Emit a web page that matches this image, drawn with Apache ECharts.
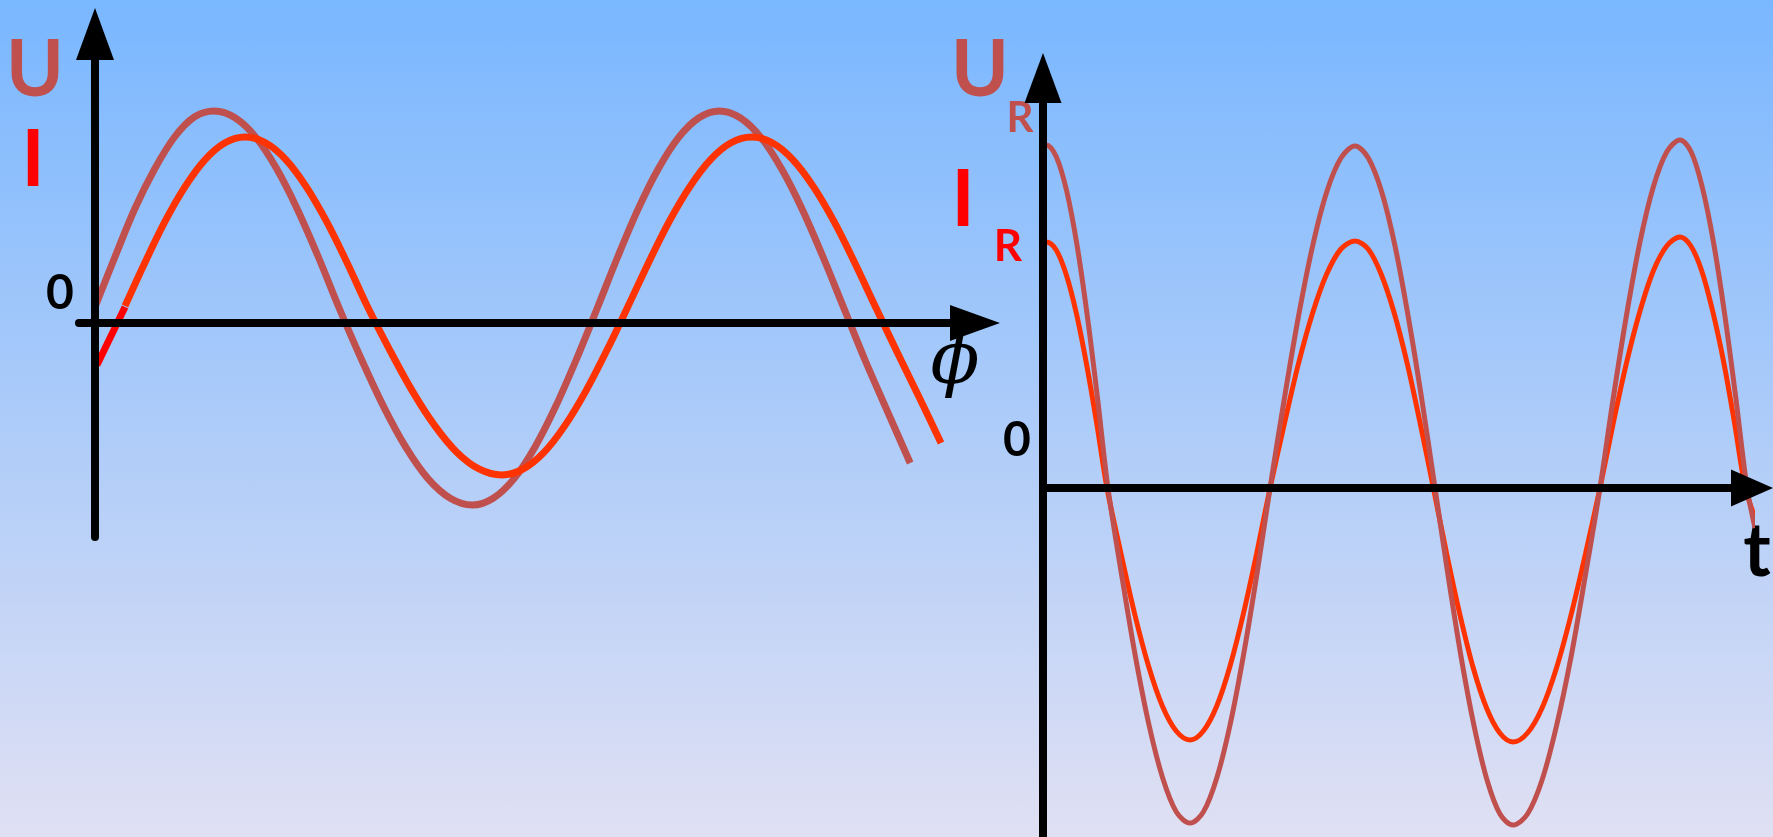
<!DOCTYPE html>
<html>
<head>
<meta charset="utf-8">
<title>U, I</title>
<script src="https://cdn.jsdelivr.net/npm/echarts@6.0.0/dist/echarts.min.js"></script>
<style>
    html, body { margin: 0; padding: 0; }
    #chart {
        width: 1773px;
        height: 837px;
        background: linear-gradient(to bottom, #79b7ff 0%, #e0e0f3 100%);
    }
</style>
</head>
<body>
<div id="chart"></div>
<script>
    // 左图：相位角 φ (度)，U 与 I
    const uPhase = [[0, 0.08], [14.2, 0.33], [28.3, 0.57], [42.5, 0.77], [56.7, 0.93], [70.8, 1.03], [85, 1.06],
        [99.8, 1.026], [114.7, 0.928], [129.5, 0.771], [144.3, 0.568], [159.2, 0.33], [174, 0.075],
        [189.8, -0.18], [205.7, -0.418], [221.5, -0.621], [237.3, -0.778], [253.2, -0.876], [269, -0.91],
        [283.8, -0.876], [298.7, -0.778], [313.5, -0.621], [328.3, -0.418], [343.2, -0.18], [358, 0.075],
        [372.5, 0.33], [387, 0.568], [401.5, 0.771], [416, 0.928], [430.5, 1.026], [445, 1.06],
        [459.8, 1.026], [474.6, 0.928], [489.3, 0.771], [504.1, 0.568], [518.9, 0.33], [533.7, 0.075],
        [548.5, -0.18], [563.3, -0.418], [581, -0.7]];
    const iPhaseStart = [[1.4, -0.21], [21.4, 0.08]];
    const iPhase = [[21.4, 0.085], [35.7, 0.304], [49.9, 0.508], [64.2, 0.682], [78.5, 0.817], [92.7, 0.901], [107, 0.93],
        [121.5, 0.901], [136, 0.817], [150.5, 0.682], [165, 0.508], [179.5, 0.304], [194, 0.085],
        [210, -0.134], [226, -0.338], [242, -0.512], [258, -0.647], [274, -0.731], [290, -0.76],
        [305, -0.731], [320, -0.647], [335, -0.512], [350, -0.338], [365, -0.134], [380, 0.085],
        [394.7, 0.304], [409.3, 0.508], [424, 0.682], [438.7, 0.817], [453.3, 0.901], [468, 0.93],
        [482.7, 0.901], [497.3, 0.817], [512, 0.682], [526.7, 0.508], [541.3, 0.304], [556, 0.085],
        [572, -0.15], [588, -0.38], [603, -0.6]];

    // 右图：时间 t，U_R 与 I_R 同相
    const urTime = [[-0.44, 3.38], [0.19, 3.43], [0.835, 3.31], [1.48, 2.97], [2.125, 2.43], [2.77, 1.72], [3.415, 0.89], [4.06, 0],
        [4.915, -0.87], [5.77, -1.68], [6.625, -2.37], [7.48, -2.9], [8.335, -3.24], [9.19, -3.35],
        [10.02, -3.24], [10.86, -2.9], [11.69, -2.37], [12.52, -1.68], [13.36, -0.87], [14.19, 0],
        [15.08, 0.89], [15.96, 1.71], [16.85, 2.42], [17.73, 2.96], [18.62, 3.3], [19.5, 3.42],
        [20.33, 3.3], [21.17, 2.96], [22.0, 2.42], [22.83, 1.71], [23.67, 0.89], [24.5, 0],
        [25.31, -0.87], [26.13, -1.69], [26.94, -2.38], [27.75, -2.92], [28.56, -3.26], [29.38, -3.37],
        [30.28, -3.26], [31.19, -2.92], [32.09, -2.38], [33.0, -1.69], [33.9, -0.87], [34.81, 0],
        [35.64, 0.9], [36.48, 1.74], [37.31, 2.46], [38.14, 3.01], [38.98, 3.36], [39.81, 3.48],
        [40.51, 3.36], [41.2, 3.01], [41.9, 2.46], [42.6, 1.74], [43.3, 0.9], [44.0, 0], [44.5, -0.4]];
    const irTime = [[-0.44, 2.43], [0.19, 2.46], [0.825, 2.38], [1.46, 2.13], [2.095, 1.74], [2.73, 1.23], [3.365, 0.64], [4.0, 0],
        [4.865, -0.65], [5.73, -1.26], [6.595, -1.78], [7.46, -2.18], [8.325, -2.43], [9.19, -2.52],
        [10.02, -2.43], [10.86, -2.18], [11.69, -1.78], [12.52, -1.26], [13.36, -0.65], [14.19, 0],
        [15.08, 0.64], [15.96, 1.24], [16.85, 1.75], [17.73, 2.14], [18.62, 2.39], [19.5, 2.47],
        [20.32, 2.39], [21.13, 2.14], [21.95, 1.75], [22.77, 1.24], [23.58, 0.64], [24.4, 0],
        [25.23, -0.66], [26.06, -1.27], [26.89, -1.8], [27.72, -2.2], [28.55, -2.45], [29.38, -2.54],
        [30.28, -2.45], [31.19, -2.2], [32.09, -1.8], [33.0, -1.27], [33.9, -0.66], [34.81, 0],
        [35.64, 0.65], [36.48, 1.26], [37.31, 1.77], [38.14, 2.17], [38.98, 2.42], [39.81, 2.51],
        [40.49, 2.42], [41.17, 2.17], [41.85, 1.77], [42.54, 1.26], [43.22, 0.65], [43.9, 0], [44.6, -0.34]];

    const colorU = '#C0504D';
    const colorI = '#FF3300';
    const colorIStart = '#FF0000';
    const font = 'Lato, "Open Sans", sans-serif';

    // 坐标轴：黑色粗线 + 三角箭头
    function makeAxis(gridIndex, min, max, arrow) {
        return {
            type: 'value',
            gridIndex: gridIndex,
            min: min,
            max: max,
            z: 5,
            axisLine: {
                show: true,
                onZero: true,
                symbol: ['none', 'triangle'],
                symbolSize: arrow,
                lineStyle: { color: '#000', width: 8 }
            },
            axisTick: { show: false },
            axisLabel: { show: false },
            splitLine: { show: false }
        };
    }

    // smooth 0.33 ≈ Catmull-Rom，避免曲线抖动
    function makeLine(name, axisIndex, data, color, width) {
        return {
            name: name,
            type: 'line',
            xAxisIndex: axisIndex,
            yAxisIndex: axisIndex,
            data: data,
            smooth: 0.33,
            showSymbol: false,
            clip: false,
            silent: true,
            lineStyle: { color: color, width: width }
        };
    }

    function label(text, x, y, size, color, extra) {
        return {
            type: 'text',
            x: x,
            y: y,
            silent: true,
            style: Object.assign({
                text: text,
                fill: color,
                fontSize: size,
                fontWeight: 'bold',
                fontFamily: font,
                align: 'center',
                verticalAlign: 'middle'
            }, extra || {})
        };
    }

    const chart = echarts.init(document.getElementById('chart'), null, { renderer: 'canvas' });
    chart.setOption({
        animation: false,
        backgroundColor: 'transparent',
        grid: [
            { left: 79, top: 34, width: 896, height: 503 },
            { left: 1043, top: 78, width: 709, height: 759 }
        ],
        xAxis: [
            makeAxis(0, -11.4, 627.2, [36, 50]),
            makeAxis(1, 0, 44.31, [37, 42])
        ],
        yAxis: [
            makeAxis(0, -1.07, 1.445, [38, 52]),
            makeAxis(1, -3.49, 4.1, [37, 50])
        ],
        series: [
            makeLine('U', 0, uPhase, colorU, 7),
            makeLine('I', 0, iPhase, colorI, 7),
            makeLine('I0', 0, iPhaseStart, colorIStart, 7),
            makeLine('I_R', 1, irTime, colorI, 5),
            makeLine('U_R', 1, urTime, colorU, 5)
        ],
        graphic: [
            label('U', 35, 71, 78, colorU),
            label('I', 33, 161, 78, colorIStart),
            label('0', 60, 294, 48, '#000'),
            label('\u03D5', 955, 364, 72, '#000', { fontFamily: '"DejaVu Serif", serif', fontStyle: 'italic', fontWeight: 'normal' }),
            label('U', 980, 71, 78, colorU),
            label('R', 1020, 118, 42, colorU),
            label('I', 963, 201, 78, colorIStart),
            label('R', 1008, 247, 44, colorIStart),
            label('0', 1017, 441, 48, '#000'),
            label('t', 1757, 552, 74, '#000')
        ]
    });
</script>
</body>
</html>
